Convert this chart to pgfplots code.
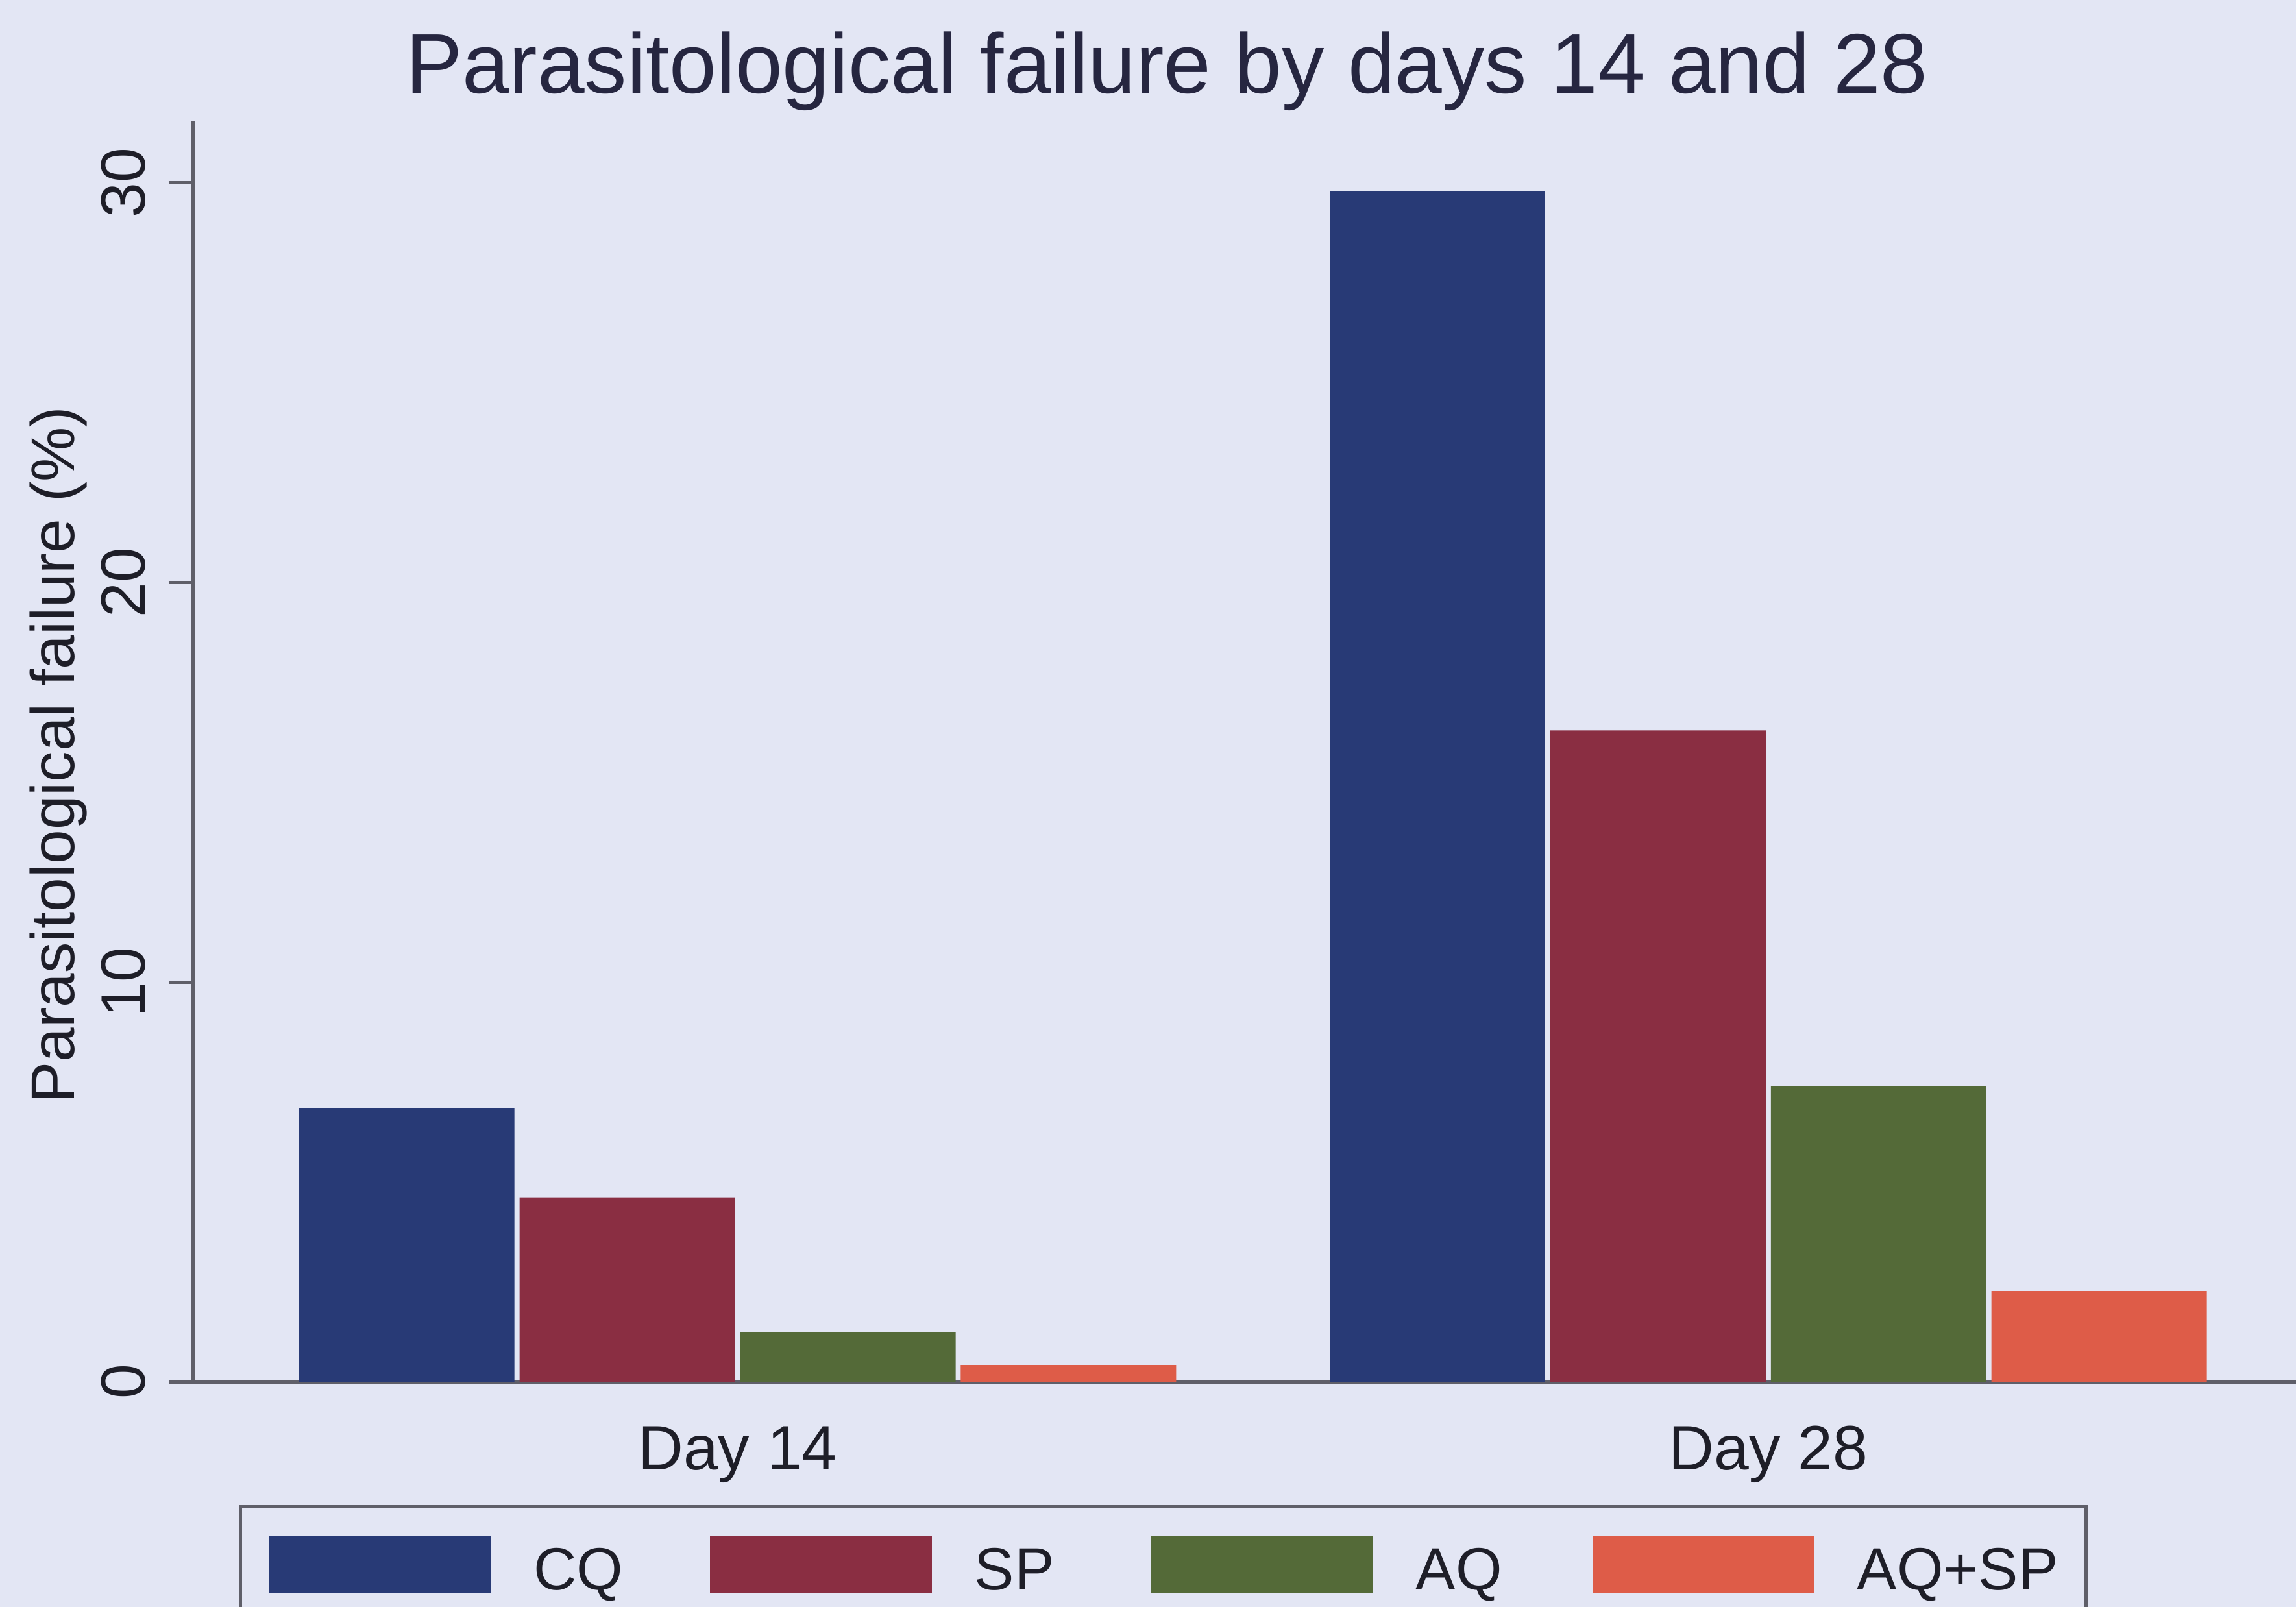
\documentclass[border=0pt]{standalone}
\usepackage{pgfplots}
\pgfplotsset{compat=1.18}
\usepackage{fontspec}
\setmainfont{Liberation Sans}
\definecolor{bg}{RGB}{227,230,244}
\definecolor{cq}{RGB}{40,58,118}
\definecolor{sp}{RGB}{138,46,66}
\definecolor{aq}{RGB}{84,106,56}
\definecolor{aqsp}{RGB}{222,92,72}
\definecolor{txt}{RGB}{30,30,40}
\definecolor{titlec}{RGB}{38,38,64}
\definecolor{axc}{RGB}{95,95,105}
\begin{document}
\begin{tikzpicture}
\fill[bg] (0,0) rectangle (530.7pt,371.4pt);
\begin{scope}
\clip (0,0) rectangle (530.7pt,371.4pt);
\begin{axis}[
  at={(44.7pt,52.05pt)}, anchor=south west,
  scale only axis, width=486pt, height=291.3pt,
  xmin=-0.528, xmax=1.512, ymin=0, ymax=31.54,
  axis x line*=bottom, axis y line*=left,
  axis line style={axc, line width=1pt},
  ybar, bar width=0.209,
  xtick={0,1}, xticklabels={Day 14, Day 28},
  x tick style={draw=none},
  ytick={0,10,20,30},
  y tick style={axc, line width=0.8pt},
  tick align=outside, major tick length=5.7pt,
  /pgf/number format/assume math mode=true,
  xticklabel style={anchor=base, font=\fontsize{14.5}{17}\selectfont, text=txt, yshift=-14.6pt},
  yticklabel style={rotate=90, anchor=base, font=\fontsize{14.5}{17}\selectfont, text=txt, inner sep=0pt},
  yticklabel shift=5.5pt,
  title={Parasitological failure by days 14 and 28},
  title style={at={(axis description cs:0.463,1.0252)}, anchor=base, yshift=-6.8pt, font=\fontsize{19.6}{23}\selectfont, text=titlec},
  ylabel={Parasitological failure (\%)},
  ylabel style={at={(axis description cs:-0.0565,0.4974)}, anchor=base, rotate=0, font=\fontsize{14.2}{17}\selectfont, text=txt},
  legend columns=4,
  legend image code/.code={\fill[#1] (0pt,-0.75pt) rectangle (51.3pt,12.6pt);},
  legend style={at={(axis description cs:0.0216,-0.0978)}, anchor=north west,
    draw=axc, line width=0.8pt, fill=bg, inner xsep=6.5pt, inner ysep=6.6pt,
    font=\fontsize{13.8}{16}\selectfont, text=txt,
    cells={anchor=base west},
    nodes={inner sep=0pt, outer sep=0pt},
    /tikz/every odd column/.append style={column sep=9.9pt},
    /tikz/every even column/.append style={column sep=2.8pt}},
]
\addplot[fill=cq, draw=none, bar shift=-0.321] coordinates {(0,6.85) (1,29.8)};
\addplot[fill=sp, draw=none, bar shift=-0.107] coordinates {(0,4.6) (1,16.3)};
\addplot[fill=aq, draw=none, bar shift=0.107] coordinates {(0,1.25) (1,7.4)};
\addplot[fill=aqsp, draw=none, bar shift=0.321] coordinates {(0,0.42) (1,2.27)};
\addlegendentry{\makebox[38pt][l]{CQ}}
\addlegendentry{\makebox[38pt][l]{SP}}
\addlegendentry{\makebox[38pt][l]{AQ}}
\addlegendentry{AQ+SP}
\end{axis}
\end{scope}
\pgfresetboundingbox
\path[use as bounding box] (0,0) rectangle (530.7pt,371.4pt);
\end{tikzpicture}
\end{document}
